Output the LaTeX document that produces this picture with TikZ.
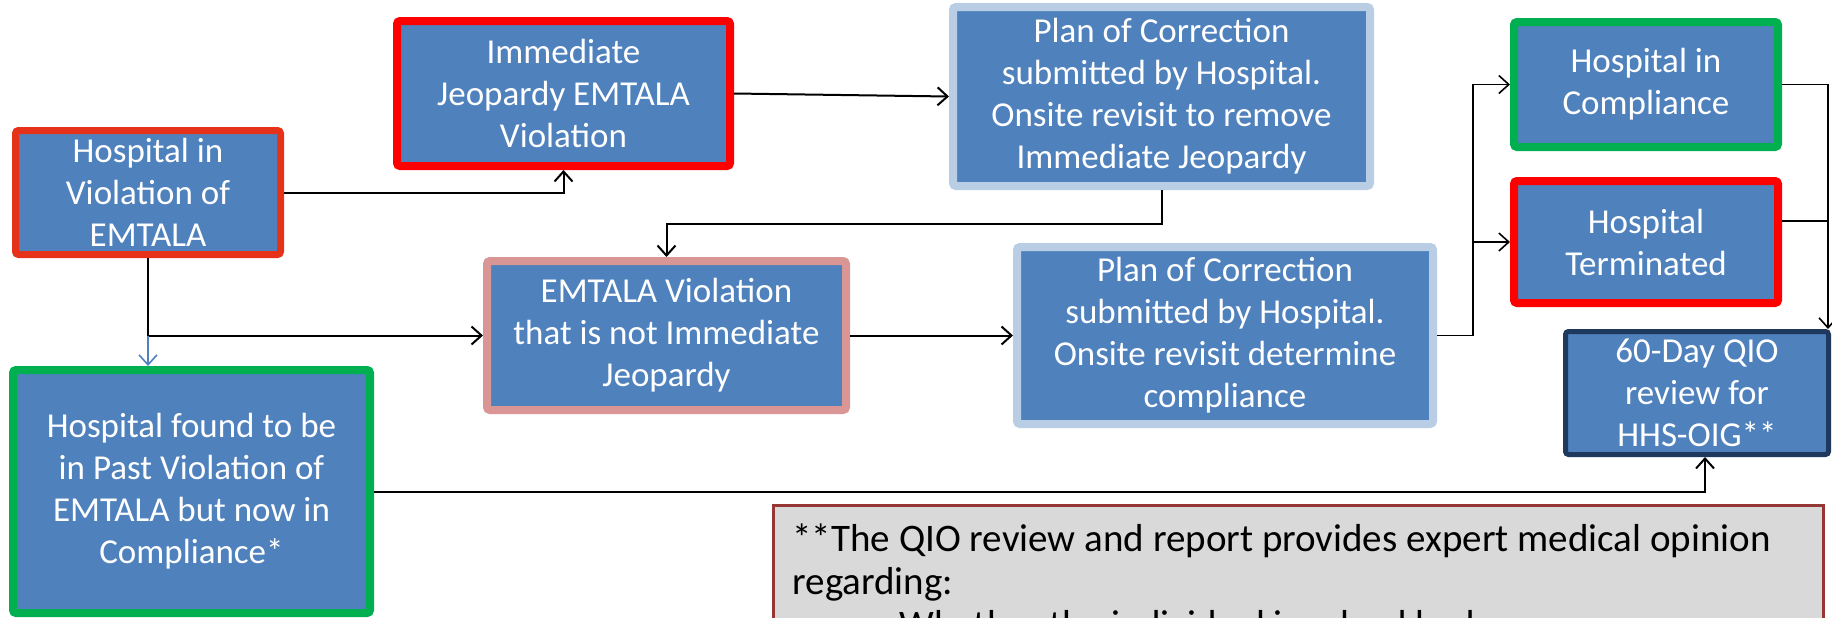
\documentclass[tikz,border=0pt]{standalone}
\usepackage{fontspec}
\setmainfont{Carlito}
\usetikzlibrary{arrows.meta,calc}
\definecolor{emblue}{RGB}{79,129,189}
\definecolor{emred}{RGB}{255,0,0}
\definecolor{emorange}{RGB}{229,50,24}
\definecolor{emgreen}{RGB}{0,176,80}
\definecolor{empink}{RGB}{217,150,148}
\definecolor{emlight}{RGB}{185,205,229}
\definecolor{emnavy}{RGB}{31,56,93}
\definecolor{notegray}{RGB}{217,217,217}
\definecolor{notered}{RGB}{149,55,53}

\begin{document}
\begin{tikzpicture}[x=0.5pt,y=-0.5pt,
  box/.style={draw, fill=emblue, text=white, line width=4pt, rounded corners=1.5pt,
    align=center, inner sep=0pt, font=\fontsize{17.5}{21}\selectfont},
  conn/.style={line width=1pt, -{Straight Barb[length=5pt,width=9pt]}},
  thinconn/.style={line width=0.8pt, -{Straight Barb[length=5pt,width=9pt]}},
  note/.style={draw=notered, fill=notegray, line width=1.5pt, align=flush left,
    inner xsep=9.5pt, inner ysep=9pt, font=\fontsize{19.5}{21.5}\selectfont}]
\useasboundingbox (0,0) rectangle (1832,617);
% Boxes
\node[box, draw=emorange, line width=3.5pt, minimum width=132.5pt, minimum height=62pt]
  (hviol) at (148,192.5) {Hospital in\\Violation of\\EMTALA};
\node[box, draw=emred, minimum width=166.5pt, minimum height=72.5pt]
  (ijviol) at (563.5,93.5) {Immediate\\Jeopardy EMTALA\\Violation};
\node[box, draw=emlight, minimum width=208.5pt, minimum height=89.5pt]
  (pocij) at (1161.5,96.5) {Plan of Correction\\submitted by Hospital.\\Onsite revisit to remove\\Immediate Jeopardy};
\node[box, draw=emgreen, minimum width=132pt, minimum height=62.5pt]
  (hcomp) at (1646,84.5) {Hospital in\\Compliance};
\node[box, draw=emred, minimum width=132pt, minimum height=61pt]
  (hterm) at (1646,242) {Hospital\\Terminated};
\node[box, draw=empink, minimum width=179.5pt, minimum height=74.5pt]
  (nijviol) at (666.5,335.5) {EMTALA Violation\\that is not Immediate\\Jeopardy};
\node[box, draw=emlight, minimum width=208pt, minimum height=88.5pt]
  (pocnij) at (1225,335.5) {Plan of Correction\\submitted by Hospital.\\Onsite revisit determine\\compliance};
\node[box, draw=emnavy, line width=2.5pt, minimum width=131.5pt, minimum height=61.5pt]
  (qio) at (1697,393) {60-Day QIO\\review for\\HHS-OIG**};
\node[box, draw=emgreen, minimum width=178.5pt, minimum height=121.5pt]
  (hpast) at (191.5,491.5) {Hospital found to be\\in Past Violation of\\EMTALA but now in\\Compliance*};
% Footnote
\node[note, anchor=north west, text width=506pt] (qionote) at (772,504)
  {**The QIO review and report provides expert medical opinion\\
   regarding:\\
   \makebox[53.5pt][l]{\hspace*{18pt}\textbullet}Whether the individual involved had};
% Connectors
\draw[conn] (hviol.east) -| (ijviol.south);
\draw[conn] (ijviol.east) -- (pocij.west);
\draw[conn] (pocij.south) -- ++(0,34) -| (nijviol.north);
\draw[conn] (hviol.south) |- (nijviol.west);
\draw[thinconn, draw=emblue] (hviol.south |- nijviol.west) -- (hviol.south |- hpast.north);
\draw[conn] (nijviol.east) -- (pocnij.west);
\coordinate (split) at ($(pocnij.east)+(36,0)$);
\draw[thinconn] (pocnij.east) -- (split) |- (hcomp.west);
\draw[thinconn] (split) |- (hterm.west);
\coordinate (qiotop) at ([xshift=-1.5pt]qio.north east);
\draw[thinconn] (hcomp.east) -| (qiotop);
\draw[line width=0.8pt] ([yshift=10.5pt]hterm.east) -- ([yshift=10.5pt]hterm.east -| qiotop);
\draw[conn] (hpast.east) -| ([xshift=4pt]qio.south);
\end{tikzpicture}
\end{document}
